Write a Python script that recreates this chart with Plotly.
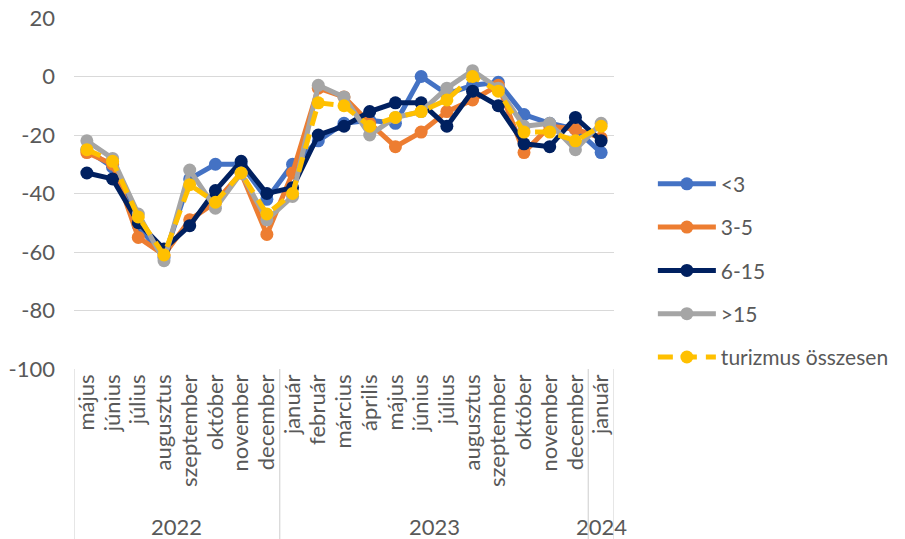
import plotly.graph_objects as go

# Category axis: months, grouped by year
years = ["2022"] * 8 + ["2023"] * 12 + ["2024"]
months = [
    "május", "június", "július", "augusztus", "szeptember", "október", "november", "december",
    "január", "február", "március", "április", "május", "június", "július", "augusztus",
    "szeptember", "október", "november", "december",
    "január",
]

# Value axis ticks
y_ticks = [-100, -80, -60, -40, -20, 0, 20]

# Balance indicators by company size (number of employees)
lt3 = [-25, -31, -51, -62, -35, -30, -30, -42, -30, -22, -16, -15, -16, 0, -6, -3, -2, -13, -16, -18, -26]
s3_5 = [-26, -30, -55, -61, -49, -43, -33, -54, -33, -4, -7, -16, -24, -19, -12, -8, -3, -26, -17, -18, -21]
s6_15 = [-33, -35, -50, -59, -51, -39, -29, -40, -38, -20, -17, -12, -9, -9, -17, -5, -10, -23, -24, -14, -22]
gt15 = [-22, -28, -47, -63, -32, -45, -33, -49, -41, -3, -7, -20, -14, -12, -4, 2, -4, -17, -16, -25, -16]
total = [-25, -29, -48, -61, -37, -43, -33, -47, -40, -9, -10, -17, -14, -12, -8, 0, -5, -19, -19, -22, -17]

series = [
    ("<3", lt3, "#4472C4", "solid"),
    ("3-5", s3_5, "#ED7D31", "solid"),
    ("6-15", s6_15, "#002060", "solid"),
    (">15", gt15, "#A5A5A5", "solid"),
    ("turizmus összesen", total, "#FFC000", "15px,9px"),
]

FONT = "Lato"
TXT = "#595959"
GRID = "#D9D9D9"
FS = 22

idx = list(range(len(months)))

fig = go.Figure()
for i, (name, vals, color, dash) in enumerate(series):
    fig.add_trace(go.Scatter(
        x=idx,
        y=vals,
        name=name,
        legendgroup=f"g{i}",
        mode="lines+markers",
        line=dict(color=color, width=5, dash=dash),
        marker=dict(color=color, size=13),
    ))

# Year groups: label centred under each group, divider lines between groups
groups = []
for k, yr in enumerate(years):
    if groups and groups[-1][0] == yr:
        groups[-1][2] = k
    else:
        groups.append([yr, k, k])

label_depth = 170 / 351  # label band height relative to plot height
shapes = []
annotations = []
for yr, first, last in groups:
    annotations.append(dict(
        x=(first + last) / 2, y=-label_depth, xref="x", yref="paper",
        text=yr, showarrow=False, xanchor="center", yanchor="bottom",
        yshift=-3, font=dict(family=FONT, size=FS, color=TXT),
    ))
edges = sorted({g[1] - 0.5 for g in groups} | {groups[-1][2] + 0.5})
for e in edges:
    shapes.append(dict(
        type="line", xref="x", yref="paper", x0=e, x1=e, y0=0, y1=-label_depth,
        line=dict(color=GRID, width=1.3),
    ))

fig.update_layout(
    width=905,
    height=539,
    margin=dict(l=74, r=290, t=18, b=170),
    paper_bgcolor="white",
    plot_bgcolor="white",
    font=dict(family=FONT, size=FS, color=TXT),
    showlegend=True,
    legend=dict(
        x=1.07, y=0.585, xanchor="left", yanchor="top",
        traceorder="grouped", tracegroupgap=13,
        itemwidth=58,
        font=dict(family=FONT, size=21, color=TXT),
        bgcolor="rgba(0,0,0,0)",
    ),
    xaxis=dict(
        range=[-0.5, len(months) - 0.5],
        tickmode="array",
        tickvals=idx,
        ticktext=months,
        tickangle=-90,
        showline=False,
        showgrid=False,
        zeroline=False,
        ticks="",
        automargin=False,
        tickfont=dict(family=FONT, size=FS, color=TXT),
    ),
    yaxis=dict(
        range=[-100, 20],
        tickmode="array",
        tickvals=y_ticks,
        ticktext=[str(v) for v in y_ticks],
        showgrid=True,
        gridcolor=GRID,
        gridwidth=1.3,
        zeroline=False,
        showline=False,
        ticks="",
        automargin=False,
        tickfont=dict(family=FONT, size=FS, color=TXT),
        ticklabelstandoff=18,
    ),
    shapes=shapes,
    annotations=annotations,
)

fig.write_html("out.html")
